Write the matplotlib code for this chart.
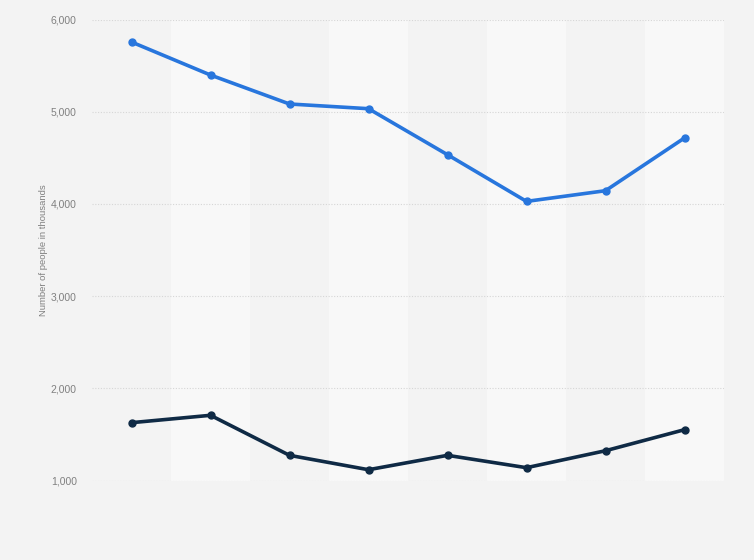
import numpy as np
import matplotlib.pyplot as plt
from matplotlib.ticker import FuncFormatter

plt.rcParams['font.family'] = ['Liberation Sans', 'DejaVu Sans']

# Data (thousands of people)
positions = list(range(8))
series_upper = [5756, 5398, 5084, 5033, 4534, 4028, 4144, 4716]
series_lower = [1629, 1709, 1275, 1119, 1275, 1141, 1325, 1553]
y_ticks = [1000, 2000, 3000, 4000, 5000, 6000]

BG = '#f3f3f3'
BAND = '#f8f8f8'
BLUE = '#2876dd'
NAVY = '#0f2a45'

fig = plt.figure(figsize=(7.54, 5.6), dpi=100, facecolor=BG)
ax = fig.add_axes([92 / 754, 1 - 480.7 / 560, (724 - 92) / 754, (480.7 - 19.5) / 560])
ax.set_facecolor(BG)

# alternating column bands
for i in positions:
    if i % 2 == 1:
        ax.axvspan(i - 0.5, i + 0.5, color=BAND, zorder=0, lw=0)

ax.set_xlim(-0.5, 7.5)
ax.set_ylim(1000, 6000)
ax.set_yticks(y_ticks)
ax.yaxis.set_major_formatter(FuncFormatter(lambda v, p: f'{int(v):,}'))
ax.grid(axis='y', color='#d6d6d6', linestyle=(0, (1, 1.5)), linewidth=0.8, zorder=1)
ax.set_xticks([])
ax.tick_params(axis='y', length=0, pad=11, labelsize=7.5, labelcolor='#808080')
for s in ax.spines.values():
    s.set_visible(False)

ax.plot(positions, series_upper, color=BLUE, lw=2.6, marker='o', ms=5, zorder=3,
        solid_joinstyle='round')
ax.plot(positions, series_lower, color=NAVY, lw=2.6, marker='o', ms=5, zorder=3,
        solid_joinstyle='round')

ax.set_ylabel('Number of people in thousands', fontsize=6.8, color='#808080')
ax.yaxis.set_label_coords(-0.07, 0.5)

fig.savefig('out.png', dpi=100, facecolor=BG)
